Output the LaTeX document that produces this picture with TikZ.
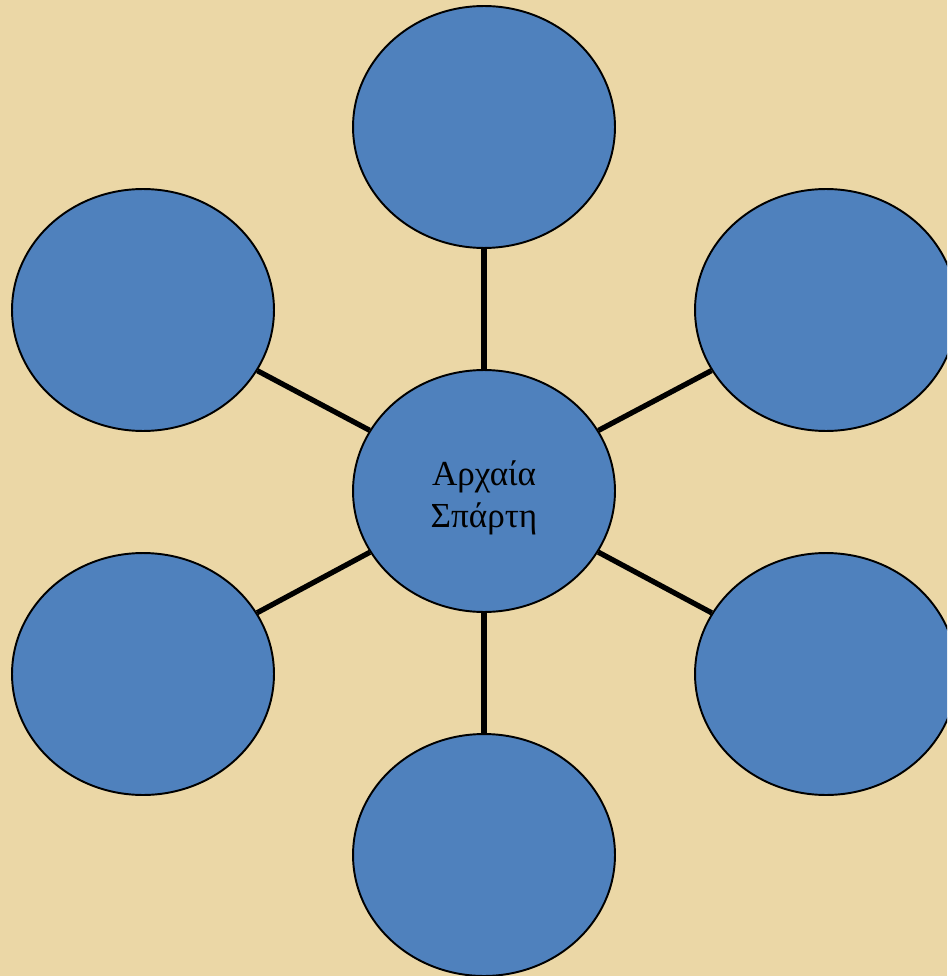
\documentclass[tikz,border=0pt]{standalone}
\usepackage{fontspec}
\setmainfont{Liberation Serif}
\usetikzlibrary{shapes.geometric}
\definecolor{papyrus}{RGB}{235,215,166}
\definecolor{bubble}{RGB}{79,129,189}
\tikzset{
  bubble/.style={ellipse, draw=black, line width=1.1pt, fill=bubble,
    minimum width=5.24cm, minimum height=4.84cm, inner sep=0pt},
  spoke/.style={line width=3pt, draw=black}
}
\begin{document}
\begin{tikzpicture}[x=0.02cm, y=-0.02cm]
\useasboundingbox (0,0) rectangle (947,976);
\clip (0,0) rectangle (947,976);
\fill[papyrus] (0,0) rectangle (947,976);
\node[bubble] (c) at (484,491) {};
\node[align=center, font=\fontsize{20pt}{24pt}\selectfont] (ctext) at (484,498) {Αρχαία\\Σπάρτη};
\node[bubble] (t) at (484,127) {};
\node[bubble] (b) at (484,855) {};
\node[bubble] (lu) at (143,310) {};
\node[bubble] (ll) at (143,674) {};
\node[bubble] (ru) at (826,310) {};
\node[bubble] (rl) at (826,674) {};
\foreach \n in {t,b,lu,ll,ru,rl} \draw[spoke] (c) -- (\n);
\end{tikzpicture}
\end{document}
